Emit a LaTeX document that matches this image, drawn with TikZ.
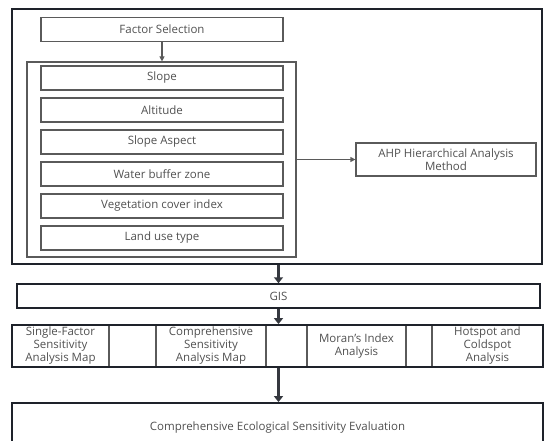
\documentclass[tikz,border=0pt]{standalone}
\usepackage{fontspec}
\setmainfont{Open Sans}
\usepackage{tikz}
\usetikzlibrary{arrows.meta}
\definecolor{mygrey}{RGB}{90,90,90}
\definecolor{mydark}{RGB}{30,34,42}
\definecolor{mytext}{RGB}{80,80,80}

\begin{document}
\begin{tikzpicture}[x=1pt,y=-1pt,line cap=round,text=mytext,font=\fontsize{11.5}{13}\selectfont]
	\tikzstyle{frame}=[draw=mydark,line width=1.8pt,inner sep=0pt];
	\tikzstyle{box}=[draw=mygrey,line width=1.2pt,minimum width=242pt,minimum height=24pt,inner sep=0pt];
	\tikzstyle{cell}=[draw=mygrey,line width=1.2pt,minimum height=42pt,inner sep=0pt,align=center];
	\tikzstyle{thin}=[draw=mygrey,line width=1.2pt,-{Triangle[length=5pt,width=5pt]}];
	\tikzstyle{fat}=[draw=mydark!90,line width=3pt,line cap=butt,-{Triangle[length=6pt,width=9pt]}];
	\useasboundingbox (0,0) rectangle (544,441);
	% upper part
	\node[frame,minimum width=530pt,minimum height=255pt] (outer) at (277,136.5) {};
	\node[box] (fs)  at (162,29.5) {Factor Selection};
	\node[draw=mygrey,line width=1.2pt,minimum width=269pt,minimum height=195pt] (cont) at (161.5,159.5) {};
	\node[box] (slope)  at (162,78)  {Slope};
	\node[box] (alt)    at (162,110) {Altitude};
	\node[box] (aspect) at (162,142) {Slope Aspect};
	\node[box] (water)  at (162,174) {Water buffer zone};
	\node[box] (veg)    at (162,206) {Vegetation cover index};
	\node[box] (land)   at (162,238) {Land use type};
	\node[draw=mygrey,line width=1.2pt,minimum width=180pt,minimum height=33pt,inner sep=0pt,align=center] (ahp) at (446,159.5) {AHP Hierarchical Analysis\\Method};
	\draw[thin] (fs.south) -- (fs.south |- cont.north);
	\draw[thin] (cont.east) -- (ahp.west);
	% GIS
	\node[frame,line width=1.5pt,minimum width=523pt,minimum height=24pt] (gis) at (278.5,296) {GIS};
	% analysis row
	\node[cell,minimum width=97pt]  (single)  at (60.5,346)  {Single-Factor\\Sensitivity\\Analysis Map};
	\node[cell,minimum width=47pt]  (gapa)    at (132.5,346) {};
	\node[cell,minimum width=110pt] (compmap) at (211,346)   {Comprehensive\\Sensitivity\\Analysis Map};
	\node[cell,minimum width=41pt]  (gapb)    at (286.5,346) {};
	\node[cell,minimum width=99pt]  (moran)   at (356.5,346) {Moran's Index\\Analysis};
	\node[cell,minimum width=26pt]  (gapc)    at (419,346)   {};
	\node[cell,minimum width=111pt] (hotspot) at (487.5,346) {Hotspot and\\Coldspot\\Analysis};
	\node[frame,minimum width=531pt,minimum height=42pt] (row) at (277.5,346) {};
	% result
	\node[frame,minimum width=531pt,minimum height=50pt] (final) at (277.5,428) {Comprehensive Ecological Sensitivity Evaluation};
	\draw[fat] (gis.north |- outer.south) -- (gis.north);
	\draw[fat] (gis.south) -- (gis.south |- row.north);
	\draw[fat] (gis.south |- row.south) -- (gis.south |- final.north);
\end{tikzpicture}
\end{document}
